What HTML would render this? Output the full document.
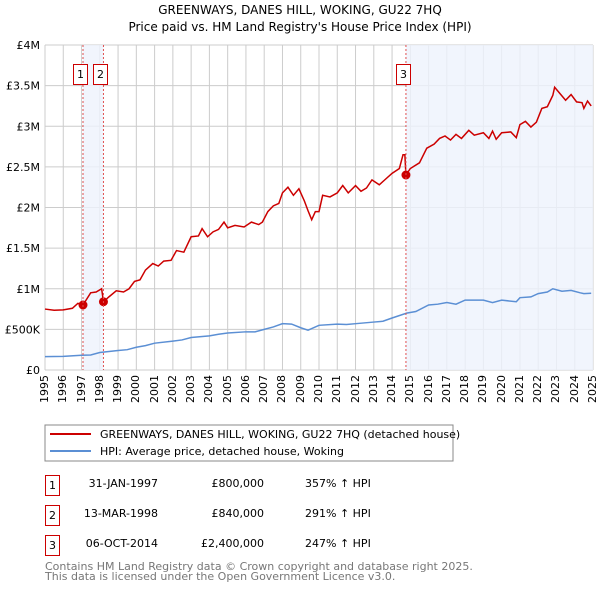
<!DOCTYPE html>
<html><head><meta charset="utf-8">
<style>
body{margin:0;background:#fff;font-family:"DejaVu Sans","Liberation Sans",sans-serif;}
svg text{font-family:"DejaVu Sans","Liberation Sans",sans-serif;}
#wrap{position:relative;width:600px;height:590px;}
#xl{position:absolute;left:0;top:0;width:600px;height:590px;pointer-events:none;}
.xt{position:absolute;top:375px;font-size:11px;line-height:11px;writing-mode:vertical-rl;transform:rotate(180deg);white-space:nowrap;}
</style></head>
<body>
<div id="wrap">
<svg id="chart" width="600" height="590" xmlns="http://www.w3.org/2000/svg">
<text x="300" y="14" font-size="12" text-anchor="middle">GREENWAYS, DANES HILL, WOKING, GU22 7HQ</text>
<text x="300" y="31" font-size="12" text-anchor="middle">Price paid vs. HM Land Registry's House Price Index (HPI)</text>
<g id="grid"></g><g id="shades"></g><g id="series"></g><g id="marks"></g>
<g>
<rect x="45" y="425" width="408" height="36" fill="#fff" stroke="#888"/>
<line x1="50" y1="434" x2="91" y2="434" stroke="#cc0000" stroke-width="2"/>
<text x="100" y="438" font-size="11">GREENWAYS, DANES HILL, WOKING, GU22 7HQ (detached house)</text>
<line x1="50" y1="451" x2="91" y2="451" stroke="#5b8fd4" stroke-width="2"/>
<text x="100" y="455" font-size="11">HPI: Average price, detached house, Woking</text>
</g>
<g font-size="11">
<rect x="45.5" y="475.5" width="14" height="20" fill="#fff" stroke="#cc0000"/><text x="52.5" y="489" text-anchor="middle">1</text>
<text x="158" y="487" text-anchor="end">31-JAN-1997</text><text x="264" y="487" text-anchor="end">£800,000</text><text x="305" y="487">357% ↑ HPI</text>
<rect x="45.5" y="505.5" width="14" height="20" fill="#fff" stroke="#cc0000"/><text x="52.5" y="519" text-anchor="middle">2</text>
<text x="158" y="517" text-anchor="end">13-MAR-1998</text><text x="264" y="517" text-anchor="end">£840,000</text><text x="305" y="517">291% ↑ HPI</text>
<rect x="45.5" y="535.5" width="14" height="20" fill="#fff" stroke="#cc0000"/><text x="52.5" y="549" text-anchor="middle">3</text>
<text x="158" y="547" text-anchor="end">06-OCT-2014</text><text x="264" y="547" text-anchor="end">£2,400,000</text><text x="305" y="547">247% ↑ HPI</text>
</g>
<text x="45" y="570" font-size="11" fill="#777">Contains HM Land Registry data © Crown copyright and database right 2025.</text>
<text x="45" y="580" font-size="11" fill="#777">This data is licensed under the Open Government Licence v3.0.</text>
</svg>
<div id="xl"></div>
</div>
<script>
const yTicks=[0,500,1000,1500,2000,2500,3000,3500,4000];
const yLabels=["£0","£500K","£1M","£1.5M","£2M","£2.5M","£3M","£3.5M","£4M"];
const years=[1995,1996,1997,1998,1999,2000,2001,2002,2003,2004,2005,2006,2007,2008,2009,2010,2011,2012,2013,2014,2015,2016,2017,2018,2019,2020,2021,2022,2023,2024,2025];
const redT=[1995,1995.5,1996,1996.5,1996.8,1997.08,1997.5,1997.8,1998.1,1998.2,1998.5,1998.9,1999.3,1999.6,1999.9,2000.2,2000.5,2000.9,2001.2,2001.5,2001.9,2002.2,2002.6,2003,2003.4,2003.6,2003.9,2004.2,2004.5,2004.8,2005,2005.4,2005.9,2006.3,2006.7,2006.9,2007.2,2007.5,2007.8,2008,2008.3,2008.6,2008.9,2009.2,2009.4,2009.6,2009.8,2010,2010.2,2010.6,2011,2011.3,2011.6,2012,2012.3,2012.6,2012.9,2013.3,2013.6,2014,2014.4,2014.6,2014.7,2014.76,2015,2015.5,2015.9,2016.3,2016.6,2016.9,2017.2,2017.5,2017.8,2018.2,2018.5,2019,2019.3,2019.5,2019.7,2020,2020.5,2020.8,2021,2021.3,2021.6,2021.9,2022.2,2022.5,2022.8,2022.9,2023.2,2023.5,2023.8,2024.1,2024.4,2024.5,2024.7,2024.9];
const redV=[750,735,740,760,820,800,950,960,1000,840,900,975,960,1000,1090,1110,1230,1310,1280,1340,1350,1470,1450,1640,1650,1740,1640,1700,1730,1820,1750,1780,1760,1820,1790,1820,1950,2020,2050,2180,2250,2150,2230,2080,1960,1850,1950,1950,2150,2130,2180,2270,2180,2270,2200,2240,2340,2280,2340,2420,2480,2650,2650,2400,2480,2550,2730,2780,2850,2880,2830,2900,2850,2950,2890,2920,2850,2940,2840,2920,2930,2860,3020,3060,2990,3050,3220,3240,3380,3480,3400,3320,3390,3300,3290,3220,3310,3250];
const blueT=[1995,1996,1997,1997.5,1998,1999,1999.5,2000,2000.5,2001,2002,2002.5,2003,2004,2004.5,2005,2006,2006.5,2007,2007.5,2008,2008.5,2009,2009.4,2010,2011,2011.5,2012,2013,2013.5,2014,2014.8,2015.3,2016,2016.5,2017,2017.5,2018,2019,2019.5,2020,2020.8,2021,2021.6,2022,2022.5,2022.8,2023.3,2023.8,2024.3,2024.5,2024.9];
const blueV=[165,168,182,185,215,240,250,280,300,330,355,370,400,420,440,455,470,470,500,530,570,565,520,490,550,565,560,570,590,600,640,700,720,800,810,830,810,860,860,830,860,840,890,900,940,960,1000,970,980,950,940,945];
const saleT=[1997.08,1998.2,2014.76];
const saleV=[800,840,2400];
const saleN=["1","2","3"];
const X0=45,X1=593,Y0=370,Y1=45;
const xs=t=>X0+(t-1995)/(2025-1995)*(X1-X0);
const ys=v=>Y0-v/4000*(Y0-Y1);
const NS="http://www.w3.org/2000/svg";
function mk(tag,attrs,parent,txt){const e=document.createElementNS(NS,tag);for(const k in attrs)e.setAttribute(k,attrs[k]);if(txt!==undefined)e.textContent=txt;document.getElementById(parent).appendChild(e);return e;}
let s1=mk('rect',{x:xs(saleT[0]),y:Y1,width:xs(saleT[1])-xs(saleT[0]),height:Y0-Y1,fill:'#eef3fc',opacity:0.8},'shades');


let s2=mk('rect',{x:xs(saleT[2]),y:Y1,width:X1-xs(saleT[2]),height:Y0-Y1,fill:'#eef3fc',opacity:0.8},'shades');


yTicks.forEach((v,i)=>{
 const l=mk('line',{x1:X0,x2:X1,y1:ys(v),y2:ys(v),stroke:'#cccccc'},'grid');
 
 
 const t=mk('text',{x:X0-5,y:ys(v)+4,'font-size':11,'text-anchor':'end'},'grid',yLabels[i]);
 
 
});
const xl=document.getElementById('xl');
years.forEach(y=>{
 const l=mk('line',{x1:xs(y),x2:xs(y),y1:Y1,y2:Y0,stroke:'#cccccc'},'grid');
 
 
 const d=document.createElement('div');
 d.className='xt';
 d.style.left=(xs(y)-6)+'px';
 d.textContent=String(y);
 
 
 xl.appendChild(d);
});
saleT.forEach((t,i)=>{
 const l=mk('line',{x1:xs(t),x2:xs(t),y1:Y1,y2:Y0,stroke:'#e05050','stroke-dasharray':'2,2','stroke-width':1},'marks');
 
 
 const r=mk('rect',{x:Math.round(xs(t))-9.5,y:64.5,width:14,height:20,fill:'#fff',stroke:'#cc0000'},'marks');
 
 
 const tx=mk('text',{x:Math.round(xs(t))-2.5,y:78,'font-size':11,'text-anchor':'middle'},'marks',saleN[i]);
 
 
});
const bp=mk('polyline',{points:blueT.map((t,i)=>xs(t)+','+ys(blueV[i])).join(' '),fill:'none',stroke:'#5b8fd4','stroke-width':1.5},'series');


const rp=mk('polyline',{points:redT.map((t,i)=>xs(t)+','+ys(redV[i])).join(' '),fill:'none',stroke:'#cc0000','stroke-width':1.5},'series');


saleT.forEach((t,i)=>{
 const c=mk('circle',{cx:xs(t),cy:ys(saleV[i]),r:4.5,fill:'#cc0000'},'series');
 
 
});
</script>
</body></html>
